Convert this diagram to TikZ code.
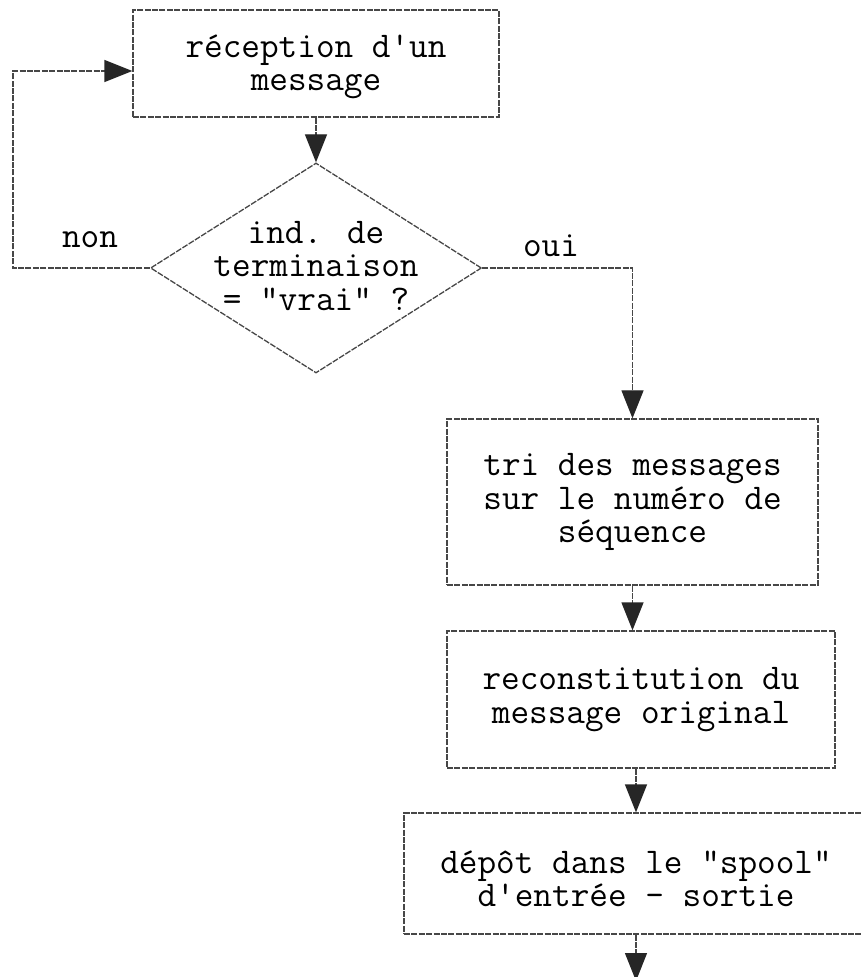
\documentclass[tikz,border=0pt]{standalone}
\usepackage{fontspec}
\usetikzlibrary{arrows.meta,shapes.geometric}
\newcommand\flowtext{\ttfamily\fontsize{18.1}{16.8}\selectfont}
\begin{document}
\begin{tikzpicture}[x=0.5pt,y=-0.5pt,
  flow/.style={draw=black!72, line width=0.65pt, dash pattern=on 3pt off 0.7pt},
  procbox/.style={flow, rectangle, inner sep=0pt, align=center, font=\flowtext},
  decision/.style={flow, diamond, inner sep=0pt, minimum width=165.5pt, minimum height=105pt},
  link/.style={flow, -{Triangle[width=11pt,length=14pt,color=black!85,fill=black!85]}},
  lbl/.style={font=\flowtext, align=center, inner sep=0pt}]
\useasboundingbox (0,0) rectangle (860,977);

% process boxes and the decision
\node[procbox, minimum width=183pt, minimum height=53.5pt] (b1) at (316,63.5) {};
\node[lbl] (b1text) at (316,67) {réception d'un\\message};
\node[decision] (dec) at (316,268) {};
\node[lbl] (dectext) at (316,266) {ind. de\\terminaison\\= "vrai" ?};
\node[procbox, minimum width=185.5pt, minimum height=83pt] (b2) at (632.5,502)
  {tri des messages\\sur le numéro de\\séquence};
\node[procbox, minimum width=194pt, minimum height=68.5pt] (b3) at (641,699.5)
  {reconstitution du\\message original};
\node[procbox, minimum width=232pt, minimum height=60.5pt] (b4) at (636,873.5) {};
\node[lbl] (b4text) at (636,879) {dépôt dans le "spool"\\d'entrée - sortie};

% branch labels
\node[lbl] (non) at (90,240) {non};
\node[lbl] (oui) at (551,246) {oui};

% loop-back corner and free end of the last arrow
\coordinate (loopL) at (13,268);
\coordinate (out) at (636,981);

% connectors
\draw[link] (b1.south) -- (dec.north);
\draw[link] (dec.west) -- (loopL) |- ([yshift=-3.75pt]b1.west);
\draw[link] (dec.east) -| (b2.north);
\draw[link] (b2.south) -- (b2.south |- b3.north);
\draw[link] (b3.south -| b4.north) -- (b4.north);
\draw[link] (b4.south) -- (out);
\end{tikzpicture}
\end{document}
